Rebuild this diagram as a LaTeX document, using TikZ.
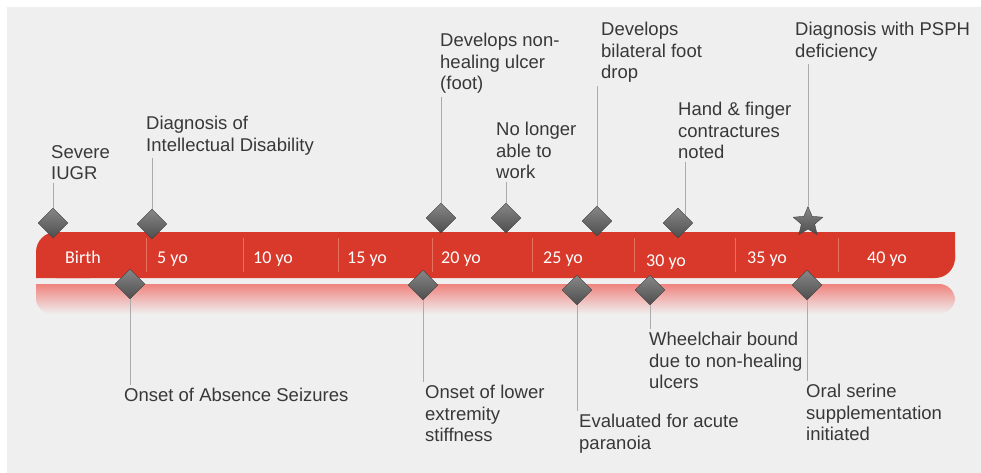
\documentclass[tikz,border=0pt]{standalone}
\usepackage{fontspec}
\setmainfont{Liberation Sans}
\newfontfamily\yofont{Carlito}
\usetikzlibrary{shapes.geometric,positioning}

\definecolor{panel}{HTML}{EFEFEF}
\definecolor{barred}{HTML}{D9392A}
\definecolor{barline}{HTML}{E8705F}
\definecolor{glow}{HTML}{EF837E}
\definecolor{ink}{HTML}{383838}
\definecolor{stemgray}{HTML}{ABABAB}
\definecolor{mktop}{HTML}{878787}
\definecolor{mkbot}{HTML}{4E4E4E}

\begin{document}
\begin{tikzpicture}[x=1pt, y=-1pt,
  mk/.style={diamond,minimum size=30pt,inner sep=0pt,top color=mktop,bottom color=mkbot,draw=mkbot!80!black,line width=0.4pt},
  mkstar/.style={star,star points=5,star point ratio=2.2,minimum size=31pt,inner sep=0pt,top color=mktop,bottom color=mkbot,draw=mkbot!80!black,line width=0.4pt},
  ev/.style={anchor=north west,align=left,inner sep=0pt,text=ink,font=\fontsize{18.5}{21.5}\selectfont},
  yo/.style={anchor=base west,inner sep=0pt,text=white,font=\yofont\fontsize{18}{20}\selectfont},
  stem/.style={draw=stemgray,line width=0.9pt,shorten >=3pt}]
\useasboundingbox (0,0) rectangle (981,473);
\fill[white] (0,0) rectangle (981,473);
\fill[panel] (7,7) rectangle (981,473);
%
\fill[barred,rounded corners=20pt] (36,232) rectangle (955,278);
\fill[barred] (900,232) rectangle (955,260) (36,250) rectangle (90,278);
\shade[top color=glow,bottom color=panel,rounded corners=16pt]
  (36,284) -- (955,284) -- (955,314) -- (36,314) -- (36,284);
\foreach \x in {146,243,338,432,532,634,735,838}
  \draw[barline,line width=0.8pt] (\x,238) -- (\x,272);
%
\node[yo] (yo0)  at (65,263)  {Birth};
\node[yo] (yo5)  at (157,263) {5 yo};
\node[yo] (yo10) at (253,263) {10 yo};
\node[yo] (yo15) at (347,263) {15 yo};
\node[yo] (yo20) at (441,263) {20 yo};
\node[yo] (yo25) at (543,263) {25 yo};
\node[yo] (yo30) at (646,266) {30 yo};
\node[yo] (yo35) at (747,263) {35 yo};
\node[yo] (yo40) at (867,263) {40 yo};
%
\node[mk]     (a1) at (53,223)  {};
\node[mk]     (a2) at (152,224) {};
\node[mk]     (a3) at (441,218) {};
\node[mk]     (a4) at (506,218) {};
\node[mk]     (a5) at (597,221) {};
\node[mk]     (a6) at (678,223) {};
\node[mkstar] (a7) at (808,222) {};
%
\node[mk] (b1) at (130,284) {};
\node[mk] (b2) at (423,285) {};
\node[mk] (b3) at (577,290) {};
\node[mk] (b4) at (650,290) {};
\node[mk] (b5) at (807,285) {};
%
\node[ev] (ta1) at (51,145)  {Severe\\IUGR};
\node[ev] (ta2) at (146,116) {Diagnosis of\\Intellectual Disability};
\node[ev] (ta3) at (440,33)  {Develops non-\\healing ulcer\\(foot)};
\node[ev] (ta4) at (496,122) {No longer\\able to\\work};
\node[ev] (ta5) at (601,22)  {Develops\\bilateral foot\\drop};
\node[ev] (ta6) at (678,102) {Hand \& finger\\contractures\\noted};
\node[ev] (ta7) at (795,22)  {Diagnosis with PSPH\\deficiency};
%
\node[ev] (tb1) at (124,388) {Onset of Absence Seizures};
\node[ev] (tb2) at (425,385) {Onset of lower\\extremity\\stiffness};
\node[ev] (tb3) at (579,414) {Evaluated for acute\\paranoia};
\node[ev] (tb4) at (649,332) {Wheelchair bound\\due to non-healing\\ulcers};
\node[ev] (tb5) at (806,384) {Oral serine\\supplementation\\initiated};
%
\path[stem]
	(a1.north) edge (a1 |- ta1.south)
	(a2.north) edge (a2 |- ta2.south)
	(a3.north) edge (a3 |- ta3.south)
	(a4.north) edge (a4 |- ta4.south)
	(a5.north) edge (a5 |- ta5.south)
	(a6.north east) edge (a6.north east |- ta6.south)
	(a7.north) edge (a7 |- ta7.south)
%
	(b1.south) edge (b1 |- tb1.north)
	(b2.south) edge (b2 |- tb2.north)
	(b3.south) edge (b3 |- tb3.north)
	(b4.south) edge (b4 |- tb4.north)
	(b5.south) edge (b5 |- tb5.north)
; %-stems-%
\end{tikzpicture}
\end{document}
